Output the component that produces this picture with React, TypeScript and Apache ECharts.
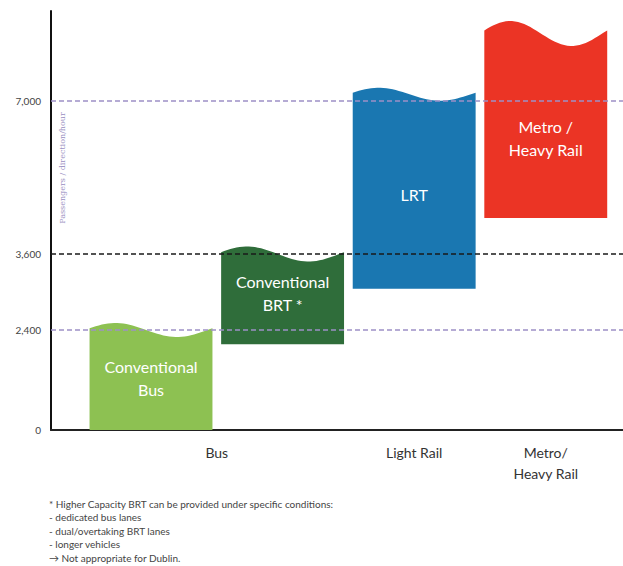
import React, { useEffect, useRef } from "react";
import * as echarts from "echarts";

// ---- data ----
const BAR_LABELS = ["Conventional\nBus", "Conventional\nBRT *", "LRT", "Metro /\nHeavy Rail"];
const BAR_LOW = [0, 2060, 3050, 4400];
const BAR_HIGH = [2400, 3600, 7150, 8500];
const GROUP_LABELS = ["Bus", "Light Rail", "Metro/\nHeavy Rail"];
const GROUP_POS = [0.5, 2, 3];
const Y_TICKS = [0, 2400, 3600, 7000];
const Y_TICK_LABELS = ["0", "2,400", "3,600", "7,000"];
const REF_LINES = [2400, 3600, 7000];
const Y_TITLE = "Passengers / direction/hour";
const FOOTNOTE = [
  "* Higher Capacity BRT can be provided under specific conditions:",
  "- dedicated bus lanes",
  "- dual/overtaking BRT lanes",
  "- longer vehicles",
  "\u2192 Not appropriate for Dublin.",
];

// ---- schematic (non-linear) axis scale ----
const SCALE_ANCHORS = [0, 100, 176, 329];
function toAxis(v: number): number {
  const t = Y_TICKS;
  const a = SCALE_ANCHORS;
  for (let i = 0; i < t.length - 1; i++) {
    if (v <= t[i + 1]) return a[i] + ((v - t[i]) / (t[i + 1] - t[i])) * (a[i + 1] - a[i]);
  }
  const n = t.length - 1;
  const slope = (a[n] - a[n - 1]) / (t[n] - t[n - 1]);
  return a[n] + (v - t[n]) * slope;
}

// ---- styles ----
const BAR_COLORS = ["#8dc152", "#2f6d3a", "#1a77b1", "#eb3425"];
const WAVE_AMP = [7, 7.5, 6.5, 12.5];
const LABEL_SHIFT = [-2, -6, 3, 12];
const REF_COLORS = ["#9d90c6", "#1a1a1a", "#9d90c6"];
const BAR_WIDTH = 0.934;
const FONT = "Lato, 'Noto Sans', sans-serif";

export default function App() {
  const ref = useRef<HTMLDivElement>(null);
  useEffect(() => {
    document.body.style.margin = "0";
    if (!ref.current) return;
    const chart = echarts.init(ref.current, undefined, { renderer: "svg" });
    const barData = BAR_LABELS.map((_, i) => [i, toAxis(BAR_LOW[i]), toAxis(BAR_HIGH[i]), i]);
    const option: any = {
      animation: false,
      grid: { left: 51, right: 0, top: 11, bottom: 136, containLabel: false },
      xAxis: {
        type: "value",
        min: -0.76,
        max: 3.587,
        axisLine: { show: true, onZero: true, lineStyle: { color: "#222", width: 2 } },
        axisTick: { show: false },
        splitLine: { show: false },
        axisLabel: {
          customValues: GROUP_POS,
          formatter: (v: number) => {
            const i = GROUP_POS.findIndex((p) => Math.abs(p - v) < 1e-6);
            return i >= 0 ? GROUP_LABELS[i] : "";
          },
          color: "#333",
          fontSize: 14,
          fontFamily: FONT,
          lineHeight: 21,
          margin: 12,
        },
      },
      yAxis: {
        type: "value",
        min: 0,
        max: 419,
        axisLine: { show: true, onZero: false, lineStyle: { color: "#111", width: 2 } },
        axisTick: { show: false },
        splitLine: { show: false },
        axisLabel: {
          customValues: Y_TICKS.map(toAxis),
          formatter: (v: number) => {
            const i = Y_TICKS.findIndex((t) => Math.abs(toAxis(t) - v) < 1e-6);
            return i >= 0 ? Y_TICK_LABELS[i] : "";
          },
          color: "#444",
          fontSize: 10,
          fontFamily: FONT,
          margin: 10,
        },
      },
      graphic: [
        {
          type: "text",
          x: 62,
          y: 168,
          rotation: Math.PI / 2,
          style: {
            text: Y_TITLE,
            align: "center",
            verticalAlign: "middle",
            fill: "#9a8fc2",
            fontSize: 8,
            fontFamily: "'DejaVu Serif', 'Liberation Serif', serif",
          },
        },
        {
          type: "text",
          x: 49,
          y: 497,
          style: {
            text: FOOTNOTE.join("\n"),
            fill: "#444",
            fontSize: 10,
            lineHeight: 13.5,
            fontFamily: FONT,
          },
        },
      ],
      series: [
        {
          type: "line",
          z: 1,
          data: [],
          markLine: {
            silent: true,
            symbol: "none",
            label: { show: false },
            data: REF_LINES.map((v, i) => ({
              yAxis: toAxis(v),
              lineStyle: { color: REF_COLORS[i], type: [5, 3], width: 1.5 },
            })),
          },
        },
        {
          type: "custom",
          z: 2,
          data: barData,
          renderItem: (_params: any, api: any) => {
            const x = api.value(0);
            const lo = api.value(1);
            const hi = api.value(2);
            const idx = api.value(3);
            const left = api.coord([x - BAR_WIDTH / 2, lo])[0];
            const right = api.coord([x + BAR_WIDTH / 2, lo])[0];
            const bottom = api.coord([x, lo])[1];
            const top = api.coord([x, hi])[1];
            const amp = WAVE_AMP[idx];
            const pts: number[][] = [[left, bottom]];
            const N = 40;
            for (let k = 0; k <= N; k++) {
              const t = k / N;
              pts.push([left + (right - left) * t, top - amp * Math.sin(2 * Math.PI * t + 0.25)]);
            }
            pts.push([right, bottom]);
            return {
              type: "group",
              children: [
                {
                  type: "polygon",
                  shape: { points: pts },
                  style: { fill: BAR_COLORS[idx] },
                },
                {
                  type: "text",
                  style: {
                    text: BAR_LABELS[idx],
                    x: (left + right) / 2,
                    y: (top + bottom) / 2 + LABEL_SHIFT[idx],
                    align: "center",
                    verticalAlign: "middle",
                    fill: "#ffffff",
                    fontSize: 16,
                    lineHeight: 23,
                    fontFamily: FONT,
                  },
                },
              ],
            };
          },
        },
      ],
    };
    chart.setOption(option);
    return () => chart.dispose();
  }, []);
  return <div ref={ref} style={{ width: 623, height: 566 }} />;
}
